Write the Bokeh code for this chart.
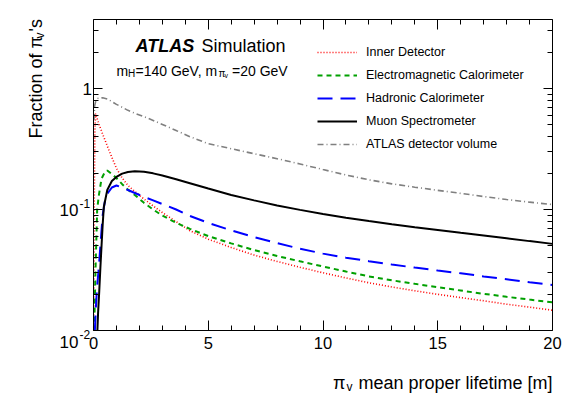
import math
from bokeh.plotting import figure
from bokeh.models import (FixedTicker, LinearAxis, LogAxis, Label, Legend, LegendItem,
                          CustomJSTickFormatter)
from bokeh.embed import file_html
from bokeh.resources import INLINE

FONT = "Liberation Sans"

# ---------------- data ----------------
x_ticks = [0, 5, 10, 15, 20]
y_ticks = [0.01, 0.1, 1]
x_lo, x_hi = 0, 20
y_lo, y_hi = 0.01, 3.72

x_id = [0.01, 0.03, 0.06, 0.09, 0.15, 0.25, 0.4, 0.6, 0.8, 1.0, 1.25, 1.5, 1.8, 2.2, 2.6,
        3.0, 3.6, 4.2, 5, 6, 7, 8, 9, 10, 11, 12, 13, 14, 15, 16, 17, 18, 19, 20]
y_id = [0.01, 0.1, 0.45, 0.62, 0.57, 0.50, 0.42, 0.335, 0.27, 0.219, 0.182, 0.158, 0.141, 0.122, 0.107,
        0.0944, 0.0794, 0.0668, 0.0569, 0.0485, 0.0420, 0.0372, 0.0333, 0.0300, 0.0272, 0.0248,
        0.0229, 0.0213, 0.0199, 0.0187, 0.0176, 0.0165, 0.0156, 0.0147]

x_em = [0.03, 0.09, 0.16, 0.23, 0.35, 0.5, 0.6, 0.8, 1.0, 1.25, 1.5, 1.8, 2.2, 2.6, 3.0,
        3.6, 4.2, 5, 6, 7, 8, 9, 10, 11, 12, 13, 14, 15, 16, 17, 18, 19, 20]
y_em = [0.01, 0.033, 0.1, 0.13, 0.18, 0.205, 0.21, 0.196, 0.182, 0.162, 0.146, 0.132, 0.1135, 0.100, 0.0891,
        0.0776, 0.0692, 0.0603, 0.0525, 0.0462, 0.0413, 0.0373, 0.0338, 0.0307, 0.0280, 0.0260,
        0.0243, 0.0228, 0.0214, 0.0201, 0.0190, 0.0180, 0.0171]

x_hc = [0.06, 0.1, 0.15, 0.23, 0.3, 0.4, 0.5, 0.6, 0.8, 1.0, 1.25, 1.5, 1.8, 2.2, 2.6,
        3.0, 3.6, 4.2, 5, 6, 7, 8, 9, 10, 11, 12, 13, 14, 15, 16, 17, 18, 19, 20]
y_hc = [0.01, 0.015, 0.022, 0.033, 0.05, 0.09, 0.118, 0.135, 0.152, 0.158, 0.152, 0.145, 0.137, 0.127, 0.119,
        0.111, 0.100, 0.0885, 0.0775, 0.0672, 0.0592, 0.0527, 0.0474, 0.0432, 0.0400, 0.0374,
        0.0351, 0.0331, 0.0313, 0.0297, 0.0280, 0.0265, 0.0251, 0.0238]

x_ms = [0.17, 0.2, 0.25, 0.3, 0.35, 0.4, 0.45, 0.6, 0.8, 1.0, 1.25, 1.5, 1.8, 2.2, 2.6,
        3.0, 3.6, 4.2, 5, 6, 7, 8, 9, 10, 11, 12, 13, 14, 15, 16, 17, 18, 19, 20]
y_ms = [0.01, 0.014, 0.021, 0.033, 0.05, 0.075, 0.105, 0.145, 0.172, 0.186, 0.198, 0.204, 0.207, 0.205, 0.199,
        0.191, 0.178, 0.165, 0.149, 0.132, 0.119, 0.108, 0.0993, 0.0918, 0.0855, 0.0802,
        0.0755, 0.0714, 0.0678, 0.0643, 0.0610, 0.0578, 0.0548, 0.0520]

x_vol = [0.02, 0.05, 0.1, 0.2, 0.4, 0.6, 0.8, 1.0, 1.25, 1.5, 1.8, 2.2, 2.6, 3.0, 3.6,
         4.2, 5, 6, 7, 8, 9, 10, 11, 12, 13, 14, 15, 16, 17, 18, 19, 20]
y_vol = [0.55, 0.72, 0.79, 0.83, 0.84, 0.82, 0.78, 0.74, 0.70, 0.66, 0.625, 0.585, 0.545, 0.505, 0.45,
         0.40, 0.35, 0.318, 0.289, 0.263, 0.238, 0.214, 0.193, 0.176, 0.163, 0.153,
         0.144, 0.136, 0.128, 0.121, 0.115, 0.11]

labels = ["Inner Detector", "Electromagnetic Calorimeter", "Hadronic Calorimeter",
          "Muon Spectrometer", "ATLAS detector volume"]

# ---------------- layout (pixels) ----------------
W, H = 580, 393
AX_L, AX_R, AX_T, AX_B = 93, 552, 19, 330     # axis box inside the canvas (from top-left)
px_x = (AX_R - AX_L) / (x_hi - x_lo)
px_dec = (AX_B - AX_T) / (math.log10(y_hi) - math.log10(y_lo))
xr = (x_lo - AX_L / px_x, x_hi + (W - AX_R) / px_x)
yr = (10 ** (math.log10(y_lo) - (H - AX_B) / px_dec), 10 ** (math.log10(y_hi) + AX_T / px_dec))


def sy(img_y):
    """canvas y (from bottom) for a pixel row measured from the top"""
    return H - img_y


p = figure(frame_width=W, frame_height=H, x_range=xr, y_range=yr,
           y_axis_type="log", output_backend="svg", toolbar_location=None,
           min_border_left=0, min_border_right=0, min_border_top=0, min_border_bottom=0)
p.grid.visible = False
p.outline_line_color = None
p.background_fill_color = "white"
p.border_fill_color = "white"

xt = FixedTicker(ticks=x_ticks, minor_ticks=[v for v in range(0, 21) if v % 5 != 0])
y_minor = [m * 10.0 ** e for e in (-2, -1, 0) for m in range(2, 10) if m * 10.0 ** e < y_hi]
yt = FixedTicker(ticks=y_ticks, minor_ticks=y_minor)

blank = CustomJSTickFormatter(code="return ''")


def style(ax, major, minor):
    ax.axis_line_color = "black"
    ax.axis_line_width = 1
    ax.major_tick_in = major
    ax.major_tick_out = 0
    ax.minor_tick_in = minor
    ax.minor_tick_out = 0
    ax.major_tick_line_color = "black"
    ax.minor_tick_line_color = "black"


bx = p.xaxis[0]
bx.ticker = xt
bx.bounds = (x_lo, x_hi)
bx.fixed_location = y_lo
style(bx, 10, 5)
bx.major_label_text_font = FONT
bx.major_label_text_font_size = "16.5px"
bx.major_label_text_color = "black"
bx.major_label_standoff = 6

ly = p.yaxis[0]
ly.ticker = yt
ly.bounds = (y_lo, y_hi)
ly.fixed_location = x_lo
style(ly, 9, 5)
ly.formatter = blank
ly.major_label_standoff = 0

top = LinearAxis(ticker=xt, formatter=blank, major_label_standoff=0,
                 bounds=(x_lo, x_hi), fixed_location=y_hi)
style(top, 10, 5)
p.add_layout(top, "above")
right = LogAxis(ticker=yt, formatter=blank, major_label_standoff=0,
                bounds=(y_lo, y_hi), fixed_location=x_hi)
style(right, 9, 5)
p.add_layout(right, "right")

# ---------------- curves ----------------
r_id = p.line(x_id, y_id, line_color="#ff0000", line_width=1.6, line_dash="1 2")
r_em = p.line(x_em, y_em, line_color="#00a000", line_width=2, line_dash="5 4")
r_hc = p.line(x_hc, y_hc, line_color="#0000ff", line_width=2, line_dash="15 8")
r_ms = p.line(x_ms, y_ms, line_color="black", line_width=2)
r_vol = p.line(x_vol, y_vol, line_color="#808080", line_width=1.6, line_dash="6 3 1 3")

legend = Legend(items=[LegendItem(label=l, renderers=[r]) for l, r in
                       zip(labels, [r_id, r_em, r_hc, r_ms, r_vol])],
                location=(317, sy(154)), orientation="vertical",
                glyph_width=40, glyph_height=20, label_height=20, spacing=3,
                label_standoff=9, padding=0, margin=0,
                border_line_color=None, background_fill_alpha=0,
                label_text_font=FONT, label_text_font_size="12.5px", label_text_color="black")
p.add_layout(legend, "center")


def lab(x, y, text, size, style="normal", align="left", baseline="alphabetic",
        angle=0.0, y_units="screen", y_offset=0):
    p.add_layout(Label(x=x, y=y, x_units="screen", y_units=y_units, text=text,
                       text_font=FONT, text_font_size=size, text_font_style=style,
                       text_color="black", text_align=align, text_baseline=baseline,
                       angle=angle, y_offset=y_offset))


# y tick labels (10 with superscript exponent)
lab(91.5, y_ticks[2], "1", "17px", align="right", baseline="middle", y_units="data")
lab(78, y_ticks[1], "10", "17px", align="right", baseline="middle", y_units="data")
lab(79, y_ticks[1], "-1", "12px", align="left", baseline="middle", y_units="data", y_offset=6)
lab(78, y_ticks[0], "10", "17px", align="right", baseline="middle", y_units="data", y_offset=-11)
lab(79, y_ticks[0], "-2", "12px", align="left", baseline="middle", y_units="data", y_offset=-4)

# axis titles
lab(552, sy(382), "mean proper lifetime [m]", "18px", align="right")
lab(345, sy(382), "\u03c0", "18px", align="right")
lab(346, sy(386), "v", "12px")

lab(35, sy(138), "Fraction of \u03c0", "18px", angle=math.pi / 2)
lab(39, sy(38), "v", "12px", angle=math.pi / 2)
lab(35, sy(31), "'s", "18px", angle=math.pi / 2)

# ATLAS label and mass info
lab(135, sy(45), "ATLAS", "18px", style="bold italic")
lab(201, sy(45), "Simulation", "18px")
lab(116, sy(70), "m", "14px")
lab(127.5, sy(73), "H", "10px")
lab(135, sy(70), "=140 GeV, m", "14px")
lab(218, sy(73), "\u03c0", "10px")
lab(224, sy(75), "v", "7px")
lab(231.5, sy(70), "=20 GeV", "14px")

open("out.html", "w").write(file_html(p, INLINE))
